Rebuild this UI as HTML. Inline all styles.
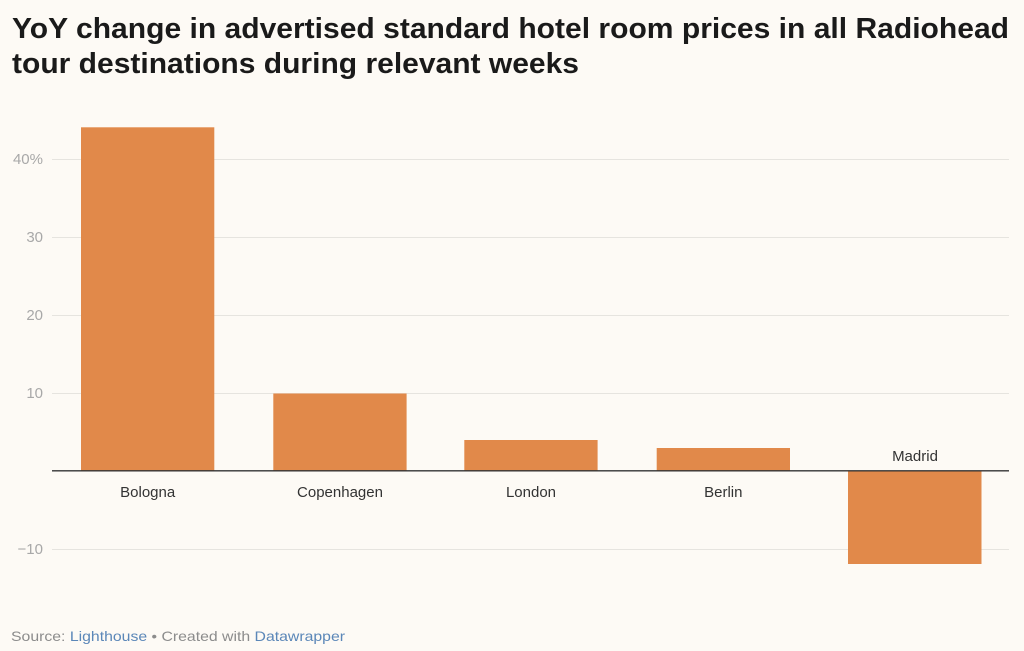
<!DOCTYPE html>
<html>
<head>
<meta charset="utf-8">
<style>
  html, body { margin:0; padding:0; background:#fdfaf5; }
  body { width:1024px; height:651px; overflow:hidden; }
  svg { display:block; }
  text { font-family: "Liberation Sans", "DejaVu Sans", sans-serif; }
</style>
</head>
<body>
<svg width="1024" height="651" viewBox="0 0 1024 651" xmlns="http://www.w3.org/2000/svg">
  <rect x="0" y="0" width="1024" height="651" fill="#fdfaf5"/>
  <!-- Title -->
  <text x="12" y="38" font-size="28.5" font-weight="bold" fill="#1a1a1a" textLength="997" lengthAdjust="spacingAndGlyphs">YoY change in advertised standard hotel room prices in all Radiohead</text>
  <text x="12" y="73" font-size="28.5" font-weight="bold" fill="#1a1a1a" textLength="567" lengthAdjust="spacingAndGlyphs">tour destinations during relevant weeks</text>

  <!-- gridlines -->
  <g stroke="#e6e4df" stroke-width="1">
    <line x1="52" y1="159.5" x2="1009" y2="159.5"/>
    <line x1="52" y1="237.5" x2="1009" y2="237.5"/>
    <line x1="52" y1="315.5" x2="1009" y2="315.5"/>
    <line x1="52" y1="393.5" x2="1009" y2="393.5"/>
    <line x1="52" y1="549.5" x2="1009" y2="549.5"/>
  </g>

  <!-- y tick labels -->
  <g font-size="15" fill="#a8a8a8" text-anchor="end">
    <text x="43" y="164">40%</text>
    <text x="43" y="242">30</text>
    <text x="43" y="320">20</text>
    <text x="43" y="398">10</text>
    <text x="43" y="554">−10</text>
  </g>

  <!-- bars -->
  <g fill="#e1894a">
    <rect x="81" y="127.3" width="133.3" height="343.7"/>
    <rect x="273.3" y="393.5" width="133.3" height="77.5"/>
    <rect x="464.3" y="440" width="133.3" height="31"/>
    <rect x="656.7" y="448" width="133.3" height="23"/>
    <rect x="848" y="471" width="133.5" height="93"/>
  </g>

  <!-- zero axis -->
  <line x1="52" y1="470.8" x2="1009" y2="470.8" stroke="#333333" stroke-width="1.4"/>

  <!-- category labels -->
  <g font-size="15" fill="#333333" text-anchor="middle">
    <text x="147.7" y="497">Bologna</text>
    <text x="340" y="497">Copenhagen</text>
    <text x="531" y="497">London</text>
    <text x="723.3" y="497">Berlin</text>
    <text x="915" y="461">Madrid</text>
  </g>

  <!-- footer -->
  <text x="11" y="641" font-size="14" fill="#8c8c8c" textLength="334" lengthAdjust="spacingAndGlyphs">Source: <tspan fill="#5b87b8">Lighthouse</tspan> • Created with <tspan fill="#5b87b8">Datawrapper</tspan></text>
</svg>
</body>
</html>
